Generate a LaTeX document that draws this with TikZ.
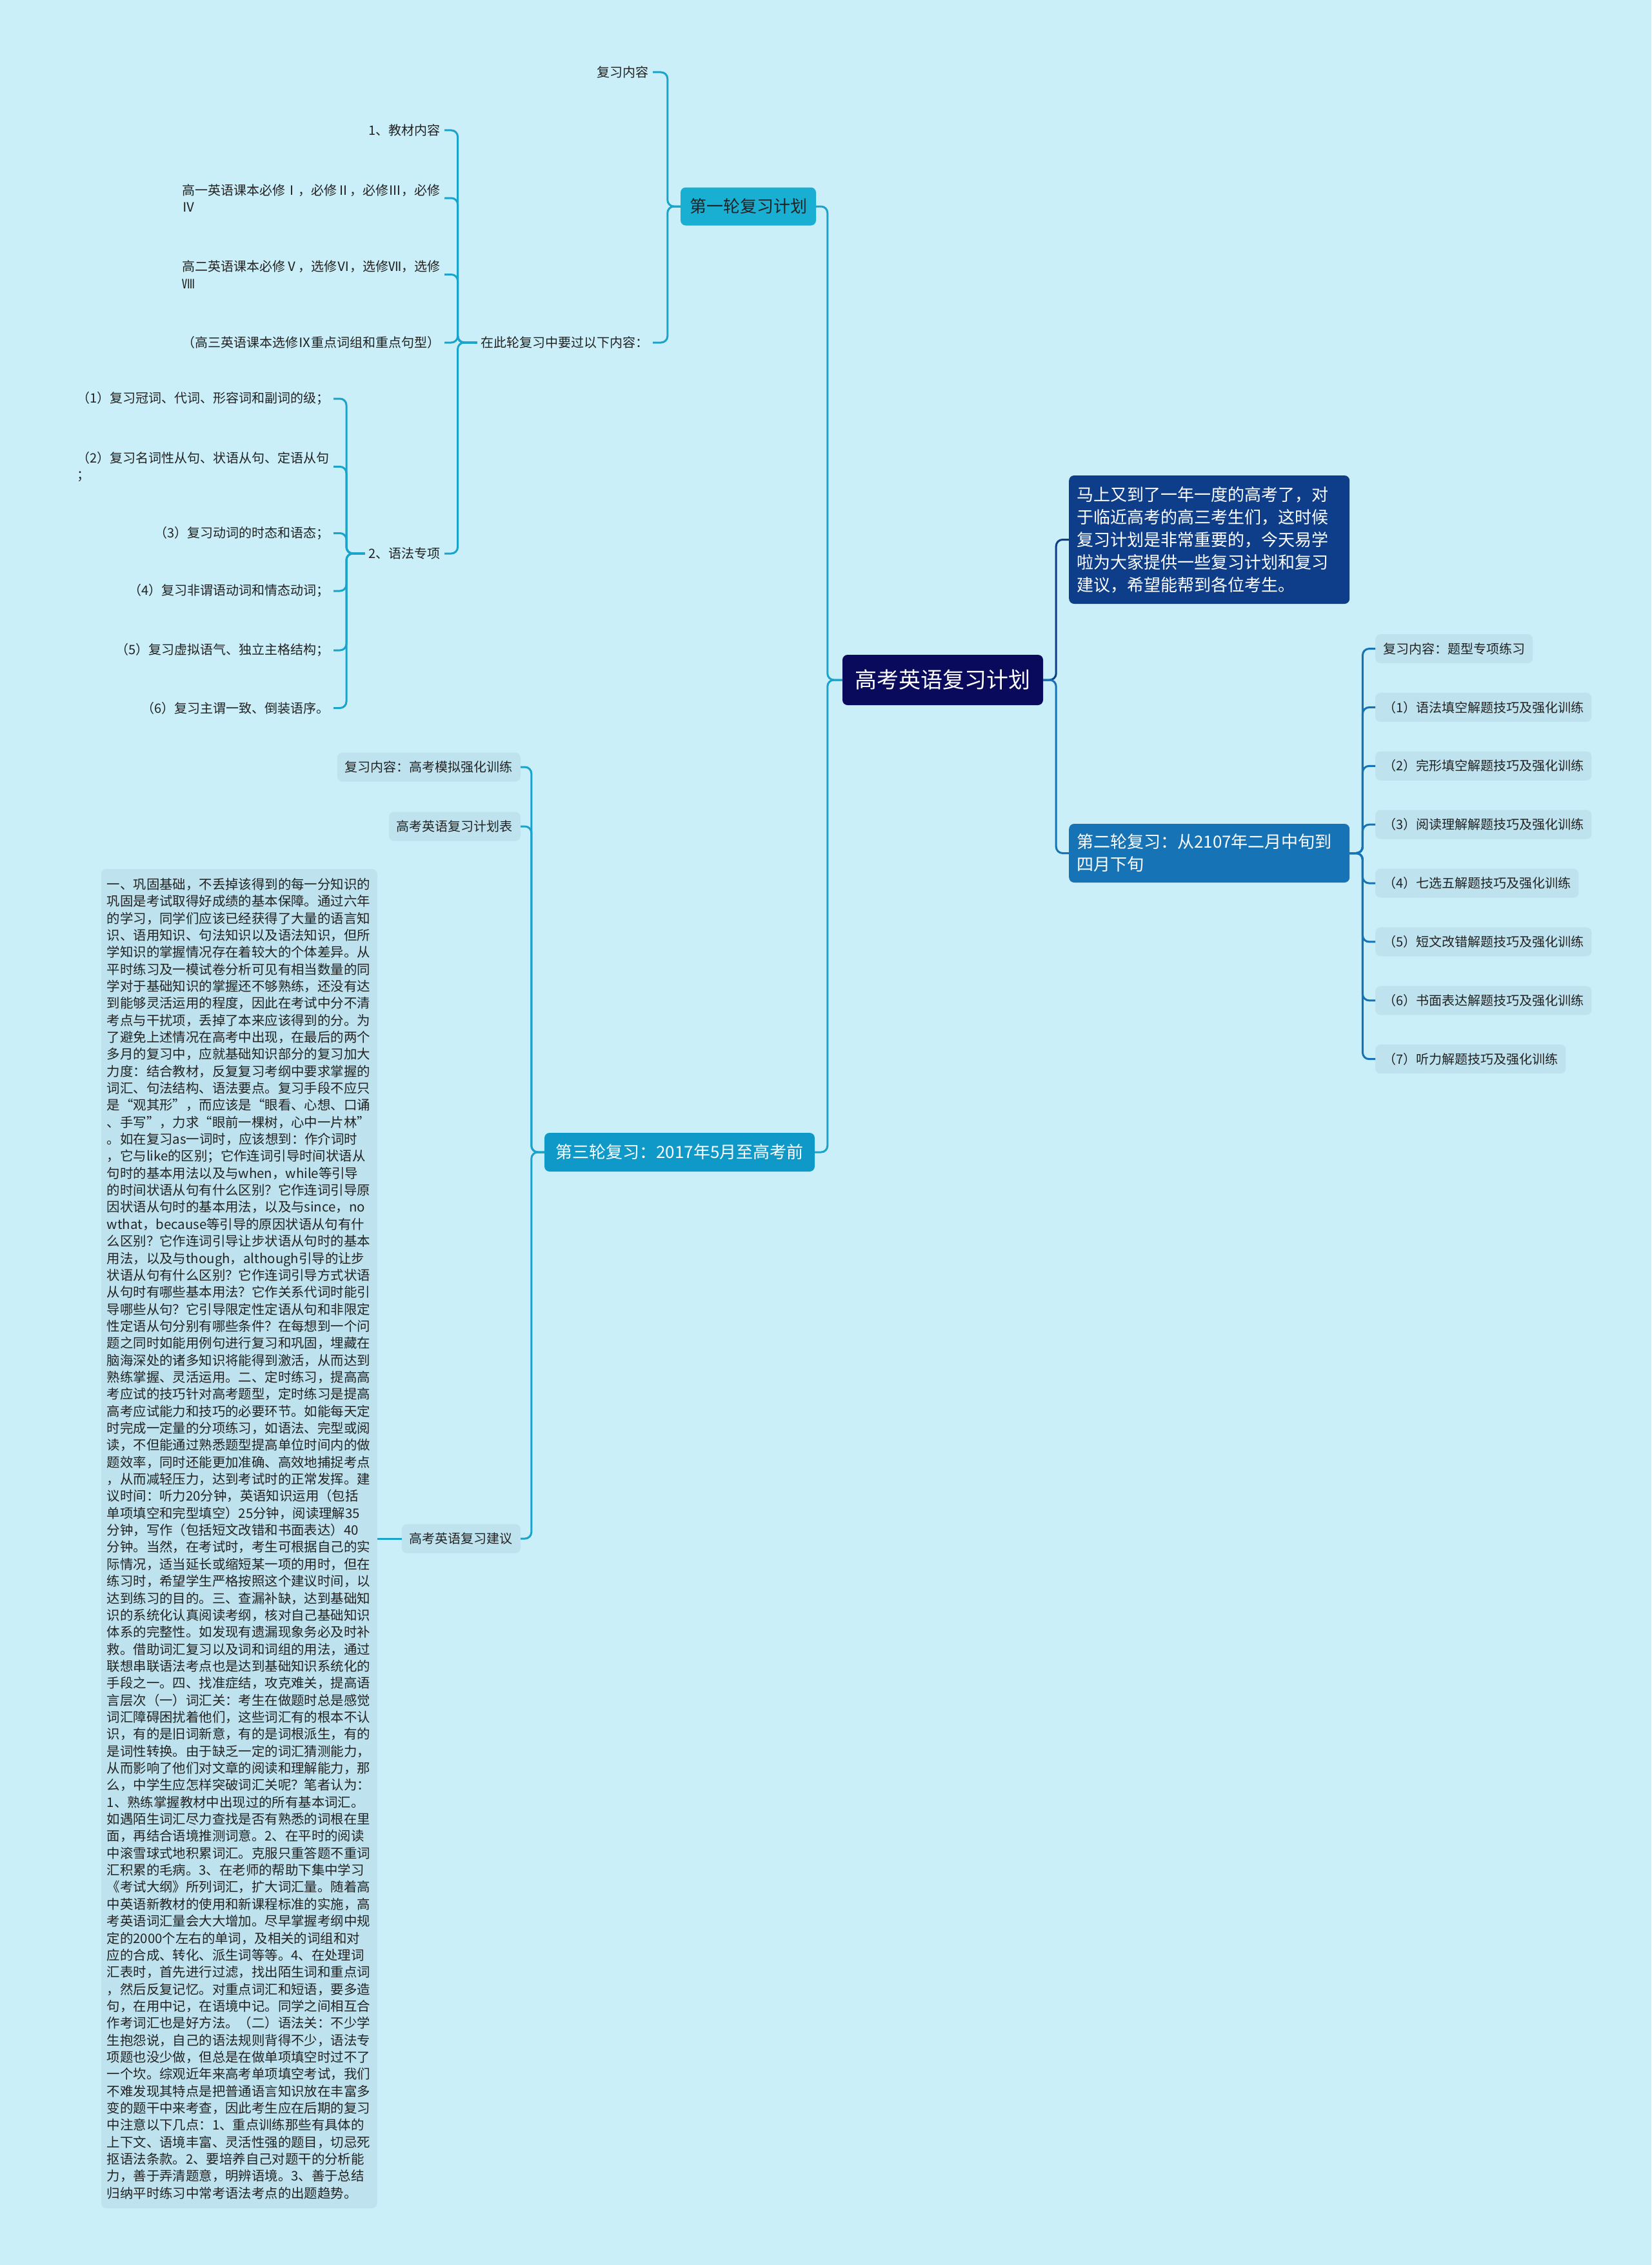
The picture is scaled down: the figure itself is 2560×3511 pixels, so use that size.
\documentclass[tikz,border=0pt]{standalone}
\usepackage{fontspec}
\setmainfont{Noto Sans CJK SC}
\usetikzlibrary{positioning}
\definecolor{sx-bg}{HTML}{CBEFF8}
\definecolor{sx-pill}{HTML}{BEE3EF}
\definecolor{sx-root}{HTML}{0A0A5C}
\definecolor{sx-intro}{HTML}{0E3E8A}
\definecolor{sx-second}{HTML}{1673B5}
\definecolor{sx-first}{HTML}{19AFD3}
\definecolor{sx-third}{HTML}{0E99C9}
\definecolor{sx-line}{HTML}{1AA3CB}
\definecolor{sx-text}{HTML}{222222}

\begin{document}
\begin{tikzpicture}[x=1pt, y=-1pt,
    leaf/.style={font=\fontsize{20}{26.5}\selectfont, text=sx-text, inner sep=6, align=left},
    pill/.style={leaf, fill=sx-pill, rounded corners=8, inner xsep=12, minimum height=45},
    box/.style={font=\fontsize{26}{35}\selectfont, rounded corners=8, inner xsep=12, align=left},
    lk/.style={line width=3, rounded corners=10, sx-line}]
    \useasboundingbox (0,0) rectangle (2560,3511);
    \fill[sx-bg] (0,0) rectangle (2560,3511);

    \node[fill=sx-root, text=white, rounded corners=8, font=\fontsize{34}{40}\selectfont, minimum width=311, minimum height=78] (root) at (1461.5,1054) {高考英语复习计划};
    \node[box, fill=sx-intro, text=white, text width=411, minimum height=199, anchor=west] (intro) at (1657,836.5) {马上又到了一年一度的高考了，对\\于临近高考的高三考生们，这时候\\复习计划是非常重要的，今天易学\\啦为大家提供一些复习计划和复习\\建议，希望能帮到各位考生。};
    \node[box, fill=sx-second, text=white, text width=411, minimum height=91, anchor=west] (second) at (1657,1322.5) {第二轮复习：从2107年二月中旬到\\四月下旬};
    \node[box, fill=sx-first, text=sx-text, minimum width=210, minimum height=59, align=center] (first) at (1160,320) {第一轮复习计划};
    \node[box, fill=sx-third, text=white, minimum width=419, minimum height=60, align=center] (third) at (1053.5,1786) {第三轮复习：2017年5月至高考前};

    \node[leaf, anchor=east] (f1) at (1012,112) {复习内容};
    \node[leaf, anchor=east] (f2) at (1012,531) {在此轮复习中要过以下内容：};
    \node[leaf, anchor=east] (g1) at (689,202) {1、教材内容};
    \node[leaf, anchor=east] (g2) at (689,307) {高一英语课本必修Ⅰ，必修Ⅱ，必修Ⅲ，必修\\Ⅳ};
    \node[leaf, anchor=east] (g3) at (689,425.5) {高二英语课本必修Ⅴ，选修Ⅵ，选修Ⅶ，选修\\Ⅷ};
    \node[leaf, anchor=east] (g4) at (689,531) {（高三英语课本选修Ⅸ重点词组和重点句型）};
    \node[leaf, anchor=east] (g5) at (689,858) {2、语法专项};
    \node[leaf, anchor=east] (h1) at (517,618) {（1）复习冠词、代词、形容词和副词的级；};
    \node[leaf, anchor=east] (h2) at (517,723.4) {（2）复习名词性从句、状语从句、定语从句\\；};
    \node[leaf, anchor=east] (h3) at (517,826.5) {（3）复习动词的时态和语态；};
    \node[leaf, anchor=east] (h4) at (517,916) {（4）复习非谓语动词和情态动词；};
    \node[leaf, anchor=east] (h5) at (517,1008) {（5）复习虚拟语气、独立主格结构；};
    \node[leaf, anchor=east] (h6) at (517,1097.5) {（6）复习主谓一致、倒装语序。};

    \node[pill, anchor=east] (t1) at (807,1189) {复习内容：高考模拟强化训练};
    \node[pill, anchor=east] (t2) at (807,1281) {高考英语复习计划表};
    \node[pill, anchor=east] (t3) at (807,2385) {高考英语复习建议};
    \node[pill, anchor=east, font=\fontsize{20.4}{26.35}\selectfont, text width=410, inner xsep=9, inner ysep=14] (tips) at (585,2385) {一、巩固基础，不丢掉该得到的每一分知识的\\
巩固是考试取得好成绩的基本保障。通过六年\\
的学习，同学们应该已经获得了大量的语言知\\
识、语用知识、句法知识以及语法知识，但所\\
学知识的掌握情况存在着较大的个体差异。从\\
平时练习及一模试卷分析可见有相当数量的同\\
学对于基础知识的掌握还不够熟练，还没有达\\
到能够灵活运用的程度，因此在考试中分不清\\
考点与干扰项，丢掉了本来应该得到的分。为\\
了避免上述情况在高考中出现，在最后的两个\\
多月的复习中，应就基础知识部分的复习加大\\
力度：结合教材，反复复习考纲中要求掌握的\\
词汇、句法结构、语法要点。复习手段不应只\\
是“观其形”，而应该是“眼看、心想、口诵\\
、手写”，力求“眼前一棵树，心中一片林”\\
。如在复习as一词时，应该想到：作介词时\\
，它与like的区别；它作连词引导时间状语从\\
句时的基本用法以及与when，while等引导\\
的时间状语从句有什么区别？它作连词引导原\\
因状语从句时的基本用法，以及与since，no\\
wthat，because等引导的原因状语从句有什\\
么区别？它作连词引导让步状语从句时的基本\\
用法，以及与though，although引导的让步\\
状语从句有什么区别？它作连词引导方式状语\\
从句时有哪些基本用法？它作关系代词时能引\\
导哪些从句？它引导限定性定语从句和非限定\\
性定语从句分别有哪些条件？在每想到一个问\\
题之同时如能用例句进行复习和巩固，埋藏在\\
脑海深处的诸多知识将能得到激活，从而达到\\
熟练掌握、灵活运用。二、定时练习，提高高\\
考应试的技巧针对高考题型，定时练习是提高\\
高考应试能力和技巧的必要环节。如能每天定\\
时完成一定量的分项练习，如语法、完型或阅\\
读，不但能通过熟悉题型提高单位时间内的做\\
题效率，同时还能更加准确、高效地捕捉考点\\
，从而减轻压力，达到考试时的正常发挥。建\\
议时间：听力20分钟，英语知识运用（包括\\
单项填空和完型填空）25分钟，阅读理解35\\
分钟，写作（包括短文改错和书面表达）40\\
分钟。当然，在考试时，考生可根据自己的实\\
际情况，适当延长或缩短某一项的用时，但在\\
练习时，希望学生严格按照这个建议时间，以\\
达到练习的目的。三、查漏补缺，达到基础知\\
识的系统化认真阅读考纲，核对自己基础知识\\
体系的完整性。如发现有遗漏现象务必及时补\\
救。借助词汇复习以及词和词组的用法，通过\\
联想串联语法考点也是达到基础知识系统化的\\
手段之一。四、找准症结，攻克难关，提高语\\
言层次（一）词汇关：考生在做题时总是感觉\\
词汇障碍困扰着他们，这些词汇有的根本不认\\
识，有的是旧词新意，有的是词根派生，有的\\
是词性转换。由于缺乏一定的词汇猜测能力，\\
从而影响了他们对文章的阅读和理解能力，那\\
么，中学生应怎样突破词汇关呢？笔者认为：\\
1、熟练掌握教材中出现过的所有基本词汇。\\
如遇陌生词汇尽力查找是否有熟悉的词根在里\\
面，再结合语境推测词意。2、在平时的阅读\\
中滚雪球式地积累词汇。克服只重答题不重词\\
汇积累的毛病。3、在老师的帮助下集中学习\\
《考试大纲》所列词汇，扩大词汇量。随着高\\
中英语新教材的使用和新课程标准的实施，高\\
考英语词汇量会大大增加。尽早掌握考纲中规\\
定的2000个左右的单词，及相关的词组和对\\
应的合成、转化、派生词等等。4、在处理词\\
汇表时，首先进行过滤，找出陌生词和重点词\\
，然后反复记忆。对重点词汇和短语，要多造\\
句，在用中记，在语境中记。同学之间相互合\\
作考词汇也是好方法。（二）语法关：不少学\\
生抱怨说，自己的语法规则背得不少，语法专\\
项题也没少做，但总是在做单项填空时过不了\\
一个坎。综观近年来高考单项填空考试，我们\\
不难发现其特点是把普通语言知识放在丰富多\\
变的题干中来考查，因此考生应在后期的复习\\
中注意以下几点：1、重点训练那些有具体的\\
上下文、语境丰富、灵活性强的题目，切忌死\\
抠语法条款。2、要培养自己对题干的分析能\\
力，善于弄清题意，明辨语境。3、善于总结\\
归纳平时练习中常考语法考点的出题趋势。};

    \node[pill, anchor=west] (q0) at (2132,1005.6) {复习内容：题型专项练习};
    \node[pill, below=90.87pt of q0.west, anchor=west] (q1) {（1）语法填空解题技巧及强化训练};
    \node[pill, below=90.87pt of q1.west, anchor=west] (q2) {（2）完形填空解题技巧及强化训练};
    \node[pill, below=90.87pt of q2.west, anchor=west] (q3) {（3）阅读理解解题技巧及强化训练};
    \node[pill, below=90.87pt of q3.west, anchor=west] (q4) {（4）七选五解题技巧及强化训练};
    \node[pill, below=90.87pt of q4.west, anchor=west] (q5) {（5）短文改错解题技巧及强化训练};
    \node[pill, below=90.87pt of q5.west, anchor=west] (q6) {（6）书面表达解题技巧及强化训练};
    \node[pill, below=90.87pt of q6.west, anchor=west] (q7) {（7）听力解题技巧及强化训练};

    \draw[lk] (root.west) -- ++(-23,0) |- (first.east);
    \draw[lk] (root.west) -- ++(-23,0) |- (third.east);
    \draw[lk, sx-intro] (root.east) -- ++(20,0) |- (intro.west);
    \draw[lk, sx-second] (root.east) -- ++(20,0) |- (second.west);
    \draw[lk] (first.west) -- ++(-20,0) |- (f1.east);
    \draw[lk] (first.west) -- ++(-20,0) |- (f2.east);
    \draw[lk] (f2.west) -- ++(-30,0) |- (g1.east);
    \draw[lk] (f2.west) -- ++(-30,0) |- (g2.east);
    \draw[lk] (f2.west) -- ++(-30,0) |- (g3.east);
    \draw[lk] (f2.west) -- ++(-30,0) |- (g4.east);
    \draw[lk] (f2.west) -- ++(-30,0) |- (g5.east);
    \draw[lk] (g5.west) -- ++(-28.5,0) |- (h1.east);
    \draw[lk] (g5.west) -- ++(-28.5,0) |- (h2.east);
    \draw[lk] (g5.west) -- ++(-28.5,0) |- (h3.east);
    \draw[lk] (g5.west) -- ++(-28.5,0) |- (h4.east);
    \draw[lk] (g5.west) -- ++(-28.5,0) |- (h5.east);
    \draw[lk] (g5.west) -- ++(-28.5,0) |- (h6.east);
    \draw[lk] (third.west) -- ++(-20,0) |- (t1.east);
    \draw[lk] (third.west) -- ++(-20,0) |- (t2.east);
    \draw[lk] (third.west) -- ++(-20,0) |- (t3.east);
    \draw[lk] (t3.west) -- (tips.east);
    \draw[lk, sx-second] (second.east) -- ++(20,0) |- (q0.west);
    \draw[lk, sx-second] (second.east) -- ++(20,0) |- (q1.west);
    \draw[lk, sx-second] (second.east) -- ++(20,0) |- (q2.west);
    \draw[lk, sx-second] (second.east) -- ++(20,0) |- (q3.west);
    \draw[lk, sx-second] (second.east) -- ++(20,0) |- (q4.west);
    \draw[lk, sx-second] (second.east) -- ++(20,0) |- (q5.west);
    \draw[lk, sx-second] (second.east) -- ++(20,0) |- (q6.west);
    \draw[lk, sx-second] (second.east) -- ++(20,0) |- (q7.west);
\end{tikzpicture}
\end{document}
